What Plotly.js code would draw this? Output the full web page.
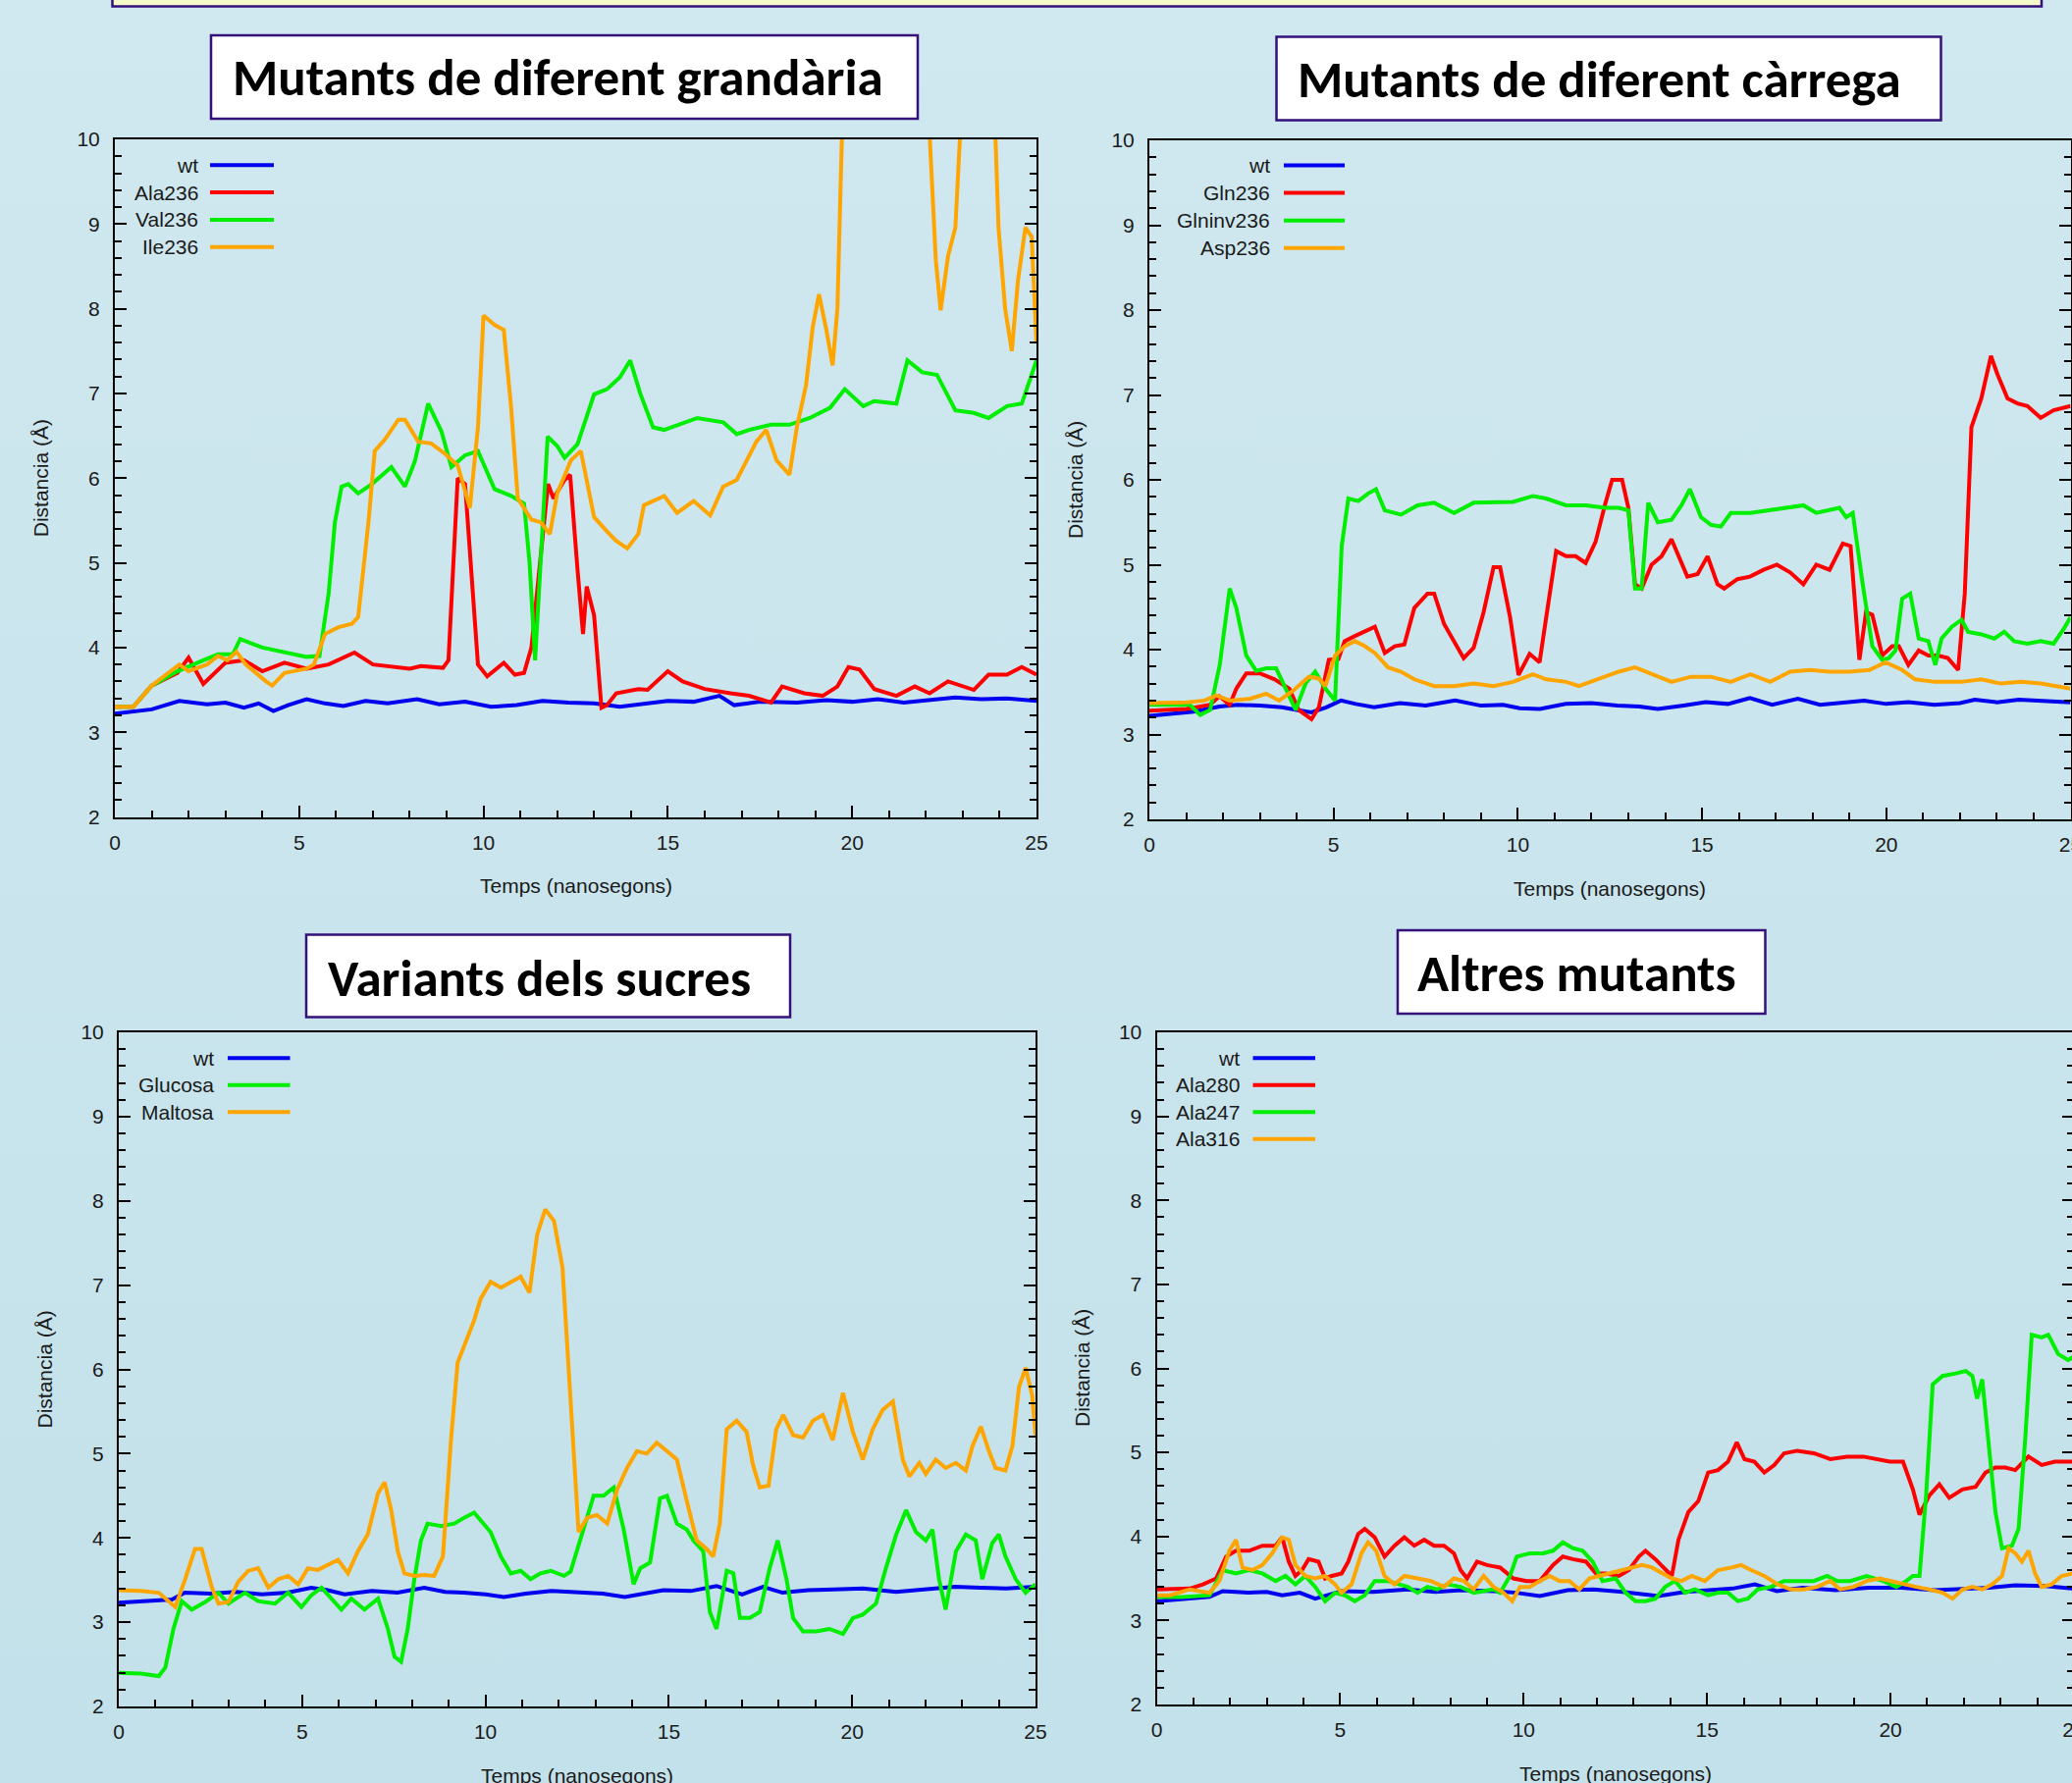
<!DOCTYPE html>
<html><head><meta charset="utf-8">
<script src="https://cdn.plot.ly/plotly-3.0.1.min.js"></script>
<style>html,body{margin:0;padding:0;overflow:hidden;background:#cae5ed}#chart{width:2130px;height:1817px}</style>
</head><body><div id="chart"></div>
<script>
// ---------------- DATA ----------------
const panelTitles = ["Mutants de diferent grandària", "Mutants de diferent càrrega", "Variants dels sucres", "Altres mutants"];
const xTitle = "Temps (nanosegons)";
const yTitle = "Distancia (Å)";

// Panel 1: Mutants de diferent grandària
const p1Names = ["wt", "Ala236", "Val236", "Ile236"];
const p1_wt_x = [0,0.5,1.0,1.75,2.5,3.0,3.5,3.9,4.3,4.7,5.2,5.7,6.2,6.8,7.4,8.2,8.8,9.5,10.2,10.9,11.6,12.3,13.0,13.7,14.4,15.0,15.7,16.4,16.8,17.5,18.5,19.3,20.0,20.7,21.4,22.1,22.8,23.5,24.2,25];
const p1_wt_y = [3.22,3.24,3.27,3.37,3.33,3.35,3.29,3.34,3.25,3.32,3.39,3.34,3.31,3.37,3.34,3.39,3.33,3.36,3.3,3.32,3.37,3.35,3.34,3.3,3.34,3.37,3.36,3.43,3.32,3.36,3.35,3.38,3.36,3.39,3.35,3.38,3.41,3.39,3.4,3.37];
const p1_ala_x = [0,0.5,1.0,1.7,2.0,2.4,3.0,3.5,4.0,4.6,5.2,5.8,6.5,7.0,8.0,8.3,8.9,9.05,9.3,9.5,9.85,10.1,10.55,10.85,11.1,11.3,11.75,11.9,12.2,12.35,12.55,12.7,12.8,13.0,13.2,13.35,13.6,14.2,14.45,15.0,15.4,16.0,16.7,17.2,17.8,18.1,18.7,19.2,19.6,19.9,20.2,20.6,21.2,21.7,22.1,22.6,23.3,23.7,24.2,24.6,25];
const p1_ala_y = [3.3,3.3,3.55,3.7,3.88,3.57,3.82,3.85,3.72,3.82,3.75,3.8,3.94,3.8,3.75,3.78,3.76,3.85,6.0,5.93,3.8,3.66,3.82,3.68,3.7,4.0,5.93,5.76,5.98,6.04,4.92,4.16,4.72,4.38,3.29,3.32,3.46,3.51,3.5,3.72,3.6,3.51,3.46,3.43,3.35,3.54,3.46,3.43,3.54,3.77,3.74,3.51,3.43,3.54,3.46,3.6,3.5,3.68,3.68,3.77,3.68];
const p1_val_x = [0,0.5,1.0,1.7,2.4,2.8,3.2,3.4,4.0,4.5,5.2,5.55,5.8,5.97,6.15,6.33,6.6,6.97,7.5,7.87,8.14,8.5,8.86,9.13,9.5,9.85,10.3,10.75,11.1,11.25,11.4,11.74,12.0,12.2,12.55,13.0,13.35,13.7,13.98,14.25,14.6,14.9,15.8,16.5,16.87,17.2,17.8,18.3,18.85,19.4,19.8,20.3,20.6,21.2,21.5,21.9,22.3,22.8,23.3,23.7,24.2,24.6,25];
const p1_val_y = [3.3,3.3,3.55,3.72,3.85,3.92,3.92,4.1,4.0,3.95,3.89,3.9,4.64,5.48,5.9,5.93,5.82,5.93,6.13,5.9,6.2,6.88,6.55,6.13,6.27,6.32,5.87,5.79,5.7,5.0,3.85,6.49,6.38,6.24,6.4,6.99,7.05,7.19,7.39,7.0,6.6,6.57,6.71,6.66,6.52,6.57,6.63,6.63,6.71,6.83,7.05,6.85,6.91,6.88,7.39,7.25,7.22,6.8,6.77,6.71,6.85,6.88,7.39];
const p1_ile_x = [0,0.5,1.0,1.75,2.0,2.5,2.8,3.05,3.3,3.55,4.1,4.27,4.6,5.2,5.4,5.7,6.07,6.43,6.6,6.88,7.05,7.33,7.69,7.87,8.23,8.58,8.95,9.3,9.63,9.85,10.0,10.3,10.55,10.75,10.93,11.3,11.55,11.8,12.0,12.37,12.64,13.0,13.35,13.6,13.9,14.2,14.35,14.9,15.25,15.7,16.15,16.5,16.87,17.4,17.67,17.95,18.3,18.5,18.75,18.93,19.1,19.3,19.47,19.6,19.75,20.5,21.5,22.05,22.27,22.4,22.6,22.8,22.98,23.4,23.85,23.97,24.15,24.33,24.5,24.7,24.87,25];
const p1_ile_y = [3.3,3.3,3.55,3.8,3.72,3.8,3.9,3.85,3.95,3.8,3.6,3.55,3.7,3.75,3.8,4.16,4.24,4.28,4.36,5.48,6.32,6.46,6.69,6.69,6.43,6.41,6.29,6.15,5.65,6.6,7.92,7.81,7.75,6.83,5.76,5.51,5.48,5.34,5.82,6.21,6.32,5.54,5.37,5.26,5.17,5.34,5.68,5.79,5.59,5.73,5.56,5.9,5.98,6.43,6.57,6.21,6.04,6.6,7.1,7.78,8.17,7.75,7.33,8.0,10.5,11,11,10.5,8.57,7.98,8.62,8.96,10.5,11,10.5,8.96,8.0,7.5,8.34,8.96,8.85,7.6];

// Panel 2: Mutants de diferent càrrega
const p2Names = ["wt", "Gln236", "Glninv236", "Asp236"];
const p2_wt_x = [0,0.5,1.2,1.9,2.4,3.0,3.6,4.0,4.4,4.8,5.2,5.6,6.1,6.8,7.5,8.3,9.0,9.6,10.05,10.6,11.3,12.0,12.7,13.3,13.8,14.5,15.1,15.7,16.3,16.9,17.6,18.2,18.8,19.4,20.0,20.6,21.3,22.0,22.4,23.0,23.6,24.3,25];
const p2_wt_y = [3.22,3.24,3.27,3.33,3.35,3.34,3.32,3.29,3.26,3.32,3.4,3.36,3.32,3.37,3.34,3.4,3.34,3.35,3.31,3.3,3.36,3.37,3.34,3.33,3.3,3.34,3.38,3.36,3.43,3.35,3.42,3.35,3.38,3.4,3.36,3.38,3.35,3.37,3.41,3.38,3.41,3.39,3.38];
const p2_gln_x = [0,1.0,1.65,1.9,2.18,2.36,2.63,3.0,3.4,3.8,4.05,4.4,4.6,4.87,5.13,5.3,5.58,5.85,6.12,6.39,6.66,6.92,7.19,7.55,7.73,8.0,8.27,8.53,8.8,9.07,9.34,9.52,9.79,10.02,10.32,10.59,10.77,11.04,11.31,11.57,11.84,12.11,12.38,12.56,12.83,13.0,13.18,13.36,13.63,13.9,14.17,14.44,14.6,14.88,15.15,15.42,15.6,15.96,16.3,16.67,17.03,17.39,17.75,18.1,18.46,18.82,19.03,19.27,19.45,19.62,19.89,20.16,20.34,20.6,20.88,21.14,21.4,21.67,21.95,22.13,22.31,22.58,22.84,23.02,23.29,23.56,23.83,24.19,24.54,25];
const p2_gln_y = [3.28,3.3,3.35,3.45,3.35,3.54,3.72,3.72,3.65,3.54,3.29,3.18,3.32,3.88,3.89,4.1,4.16,4.21,4.27,3.96,4.04,4.06,4.49,4.66,4.66,4.3,4.1,3.9,4.02,4.44,4.97,4.97,4.38,3.7,3.95,3.85,4.38,5.16,5.1,5.1,5.02,5.27,5.73,6.0,6.0,5.67,4.77,4.72,5.0,5.1,5.3,5.02,4.86,4.89,5.1,4.77,4.72,4.83,4.86,4.94,5.0,4.91,4.77,5.0,4.94,5.25,5.22,3.88,4.44,4.41,3.93,4.04,4.04,3.82,3.99,3.93,3.93,3.9,3.76,4.66,6.62,6.96,7.46,7.24,6.96,6.9,6.87,6.73,6.82,6.87];
const p2_glninv_x = [0,1.1,1.38,1.65,1.91,2.18,2.36,2.63,2.9,3.17,3.44,3.7,3.97,4.24,4.5,4.78,5.04,5.22,5.4,5.67,5.94,6.15,6.39,6.83,7.28,7.73,8.27,8.8,9.34,9.87,10.41,10.77,11.31,11.84,12.38,12.74,13.0,13.18,13.36,13.54,13.8,14.17,14.44,14.67,14.97,15.24,15.51,15.78,16.31,16.85,17.39,17.75,18.1,18.46,18.73,18.91,19.09,19.36,19.62,19.89,20.07,20.25,20.43,20.65,20.88,21.14,21.33,21.5,21.78,22.04,22.22,22.58,22.93,23.2,23.47,23.83,24.19,24.54,24.81,25];
const p2_glninv_y = [3.35,3.35,3.23,3.29,3.82,4.72,4.49,3.93,3.75,3.78,3.78,3.54,3.29,3.6,3.74,3.54,3.4,5.22,5.78,5.75,5.84,5.89,5.64,5.59,5.7,5.73,5.61,5.73,5.73,5.74,5.81,5.78,5.7,5.7,5.67,5.67,5.64,4.72,4.72,5.73,5.5,5.53,5.7,5.89,5.56,5.47,5.45,5.61,5.61,5.64,5.67,5.7,5.61,5.64,5.67,5.56,5.61,4.77,4.04,3.88,3.9,3.99,4.6,4.66,4.13,4.1,3.82,4.13,4.27,4.35,4.21,4.18,4.13,4.21,4.1,4.07,4.1,4.07,4.24,4.38];
const p2_asp_x = [0,0.5,1.0,1.5,1.82,2.18,2.72,3.17,3.52,3.88,4.33,4.6,4.78,5.04,5.3,5.58,5.85,6.12,6.48,6.83,7.19,7.73,8.27,8.8,9.34,9.87,10.41,10.77,11.31,11.66,12.2,12.74,13.18,13.63,14.17,14.7,15.24,15.78,16.31,16.85,17.39,17.93,18.46,19.0,19.54,19.98,20.43,20.78,21.32,22.04,22.58,23.11,23.65,24.19,25];
const p2_asp_y = [3.37,3.37,3.38,3.4,3.46,3.4,3.42,3.48,3.4,3.51,3.68,3.66,3.57,3.93,4.04,4.1,4.04,3.96,3.79,3.74,3.65,3.57,3.57,3.6,3.57,3.62,3.71,3.65,3.62,3.57,3.65,3.74,3.79,3.71,3.62,3.68,3.68,3.62,3.71,3.62,3.74,3.76,3.74,3.74,3.76,3.85,3.76,3.65,3.62,3.62,3.65,3.6,3.62,3.6,3.54];

// Panel 3: Variants dels sucres
const p3Names = ["wt", "Glucosa", "Maltosa"];
const p3_wt_x = [0,0.7,1.45,1.8,2.5,3.2,3.9,4.6,5.25,5.7,6.16,6.9,7.6,8.33,8.9,9.4,10.0,10.5,11.1,11.8,12.5,13.2,13.8,14.4,14.85,15.6,16.3,17.0,17.57,18.1,18.8,19.5,20.3,21.2,22.1,22.8,23.5,24.2,25];
const p3_wt_y = [3.23,3.25,3.27,3.35,3.34,3.36,3.33,3.35,3.41,3.38,3.33,3.37,3.35,3.41,3.36,3.35,3.33,3.3,3.34,3.37,3.35,3.34,3.3,3.34,3.38,3.37,3.43,3.33,3.42,3.35,3.38,3.39,3.4,3.36,3.4,3.42,3.41,3.4,3.42];
const p3_glu_x = [0,0.6,1.09,1.27,1.49,1.72,1.99,2.36,2.72,2.99,3.44,3.8,4.26,4.62,4.98,5.25,5.53,5.8,6.07,6.34,6.7,7.07,7.34,7.52,7.7,7.88,8.06,8.24,8.42,8.79,9.15,9.42,9.69,10.14,10.42,10.69,10.96,11.23,11.5,11.78,12.14,12.32,12.68,12.95,13.22,13.5,13.77,14.04,14.22,14.49,14.76,14.95,15.22,15.49,15.67,15.94,16.12,16.3,16.58,16.76,16.94,17.21,17.48,17.75,17.97,18.21,18.39,18.66,19.02,19.38,19.75,20.02,20.29,20.65,20.92,21.2,21.47,21.74,22.01,22.19,22.37,22.55,22.83,23.1,23.37,23.55,23.82,24.0,24.18,24.46,24.73,25];
const p3_glu_y = [2.4,2.39,2.36,2.46,2.92,3.25,3.15,3.24,3.35,3.22,3.35,3.25,3.22,3.35,3.18,3.32,3.41,3.28,3.15,3.28,3.15,3.28,2.92,2.59,2.53,2.92,3.51,3.97,4.17,4.14,4.17,4.24,4.3,4.07,3.78,3.58,3.61,3.51,3.58,3.61,3.55,3.6,4.1,4.5,4.5,4.6,4.1,3.45,3.64,3.71,4.47,4.5,4.17,4.1,3.97,3.84,3.12,2.92,3.61,3.58,3.05,3.05,3.12,3.64,3.97,3.51,3.05,2.89,2.89,2.92,2.86,3.05,3.09,3.22,3.64,4.04,4.33,4.07,3.97,4.1,3.51,3.15,3.84,4.04,3.97,3.51,3.94,4.04,3.78,3.51,3.35,3.45];
const p3_mal_x = [0,0.6,1.09,1.36,1.54,1.81,2.08,2.26,2.54,2.72,2.99,3.26,3.53,3.8,4.08,4.35,4.62,4.89,5.16,5.43,5.71,5.98,6.25,6.52,6.79,7.07,7.25,7.43,7.61,7.79,8.06,8.33,8.6,8.84,9.06,9.24,9.42,9.69,9.87,10.14,10.42,10.69,10.96,11.2,11.41,11.63,11.87,12.1,12.32,12.54,12.77,13.04,13.32,13.59,13.86,14.13,14.4,14.67,14.95,15.22,15.49,15.76,16.03,16.21,16.39,16.58,16.85,17.12,17.3,17.48,17.72,17.93,18.12,18.39,18.66,18.93,19.2,19.47,19.75,20.02,20.29,20.56,20.83,21.11,21.38,21.56,21.83,22.01,22.28,22.55,22.83,23.1,23.28,23.51,23.73,23.91,24.18,24.37,24.55,24.73,24.91,25];
const p3_mal_y = [3.38,3.37,3.35,3.25,3.18,3.51,3.87,3.87,3.41,3.22,3.24,3.48,3.61,3.64,3.41,3.51,3.55,3.45,3.64,3.62,3.68,3.74,3.58,3.84,4.04,4.53,4.66,4.33,3.84,3.58,3.55,3.56,3.55,3.78,5.16,6.08,6.28,6.58,6.84,7.04,6.97,7.04,7.1,6.91,7.6,7.9,7.76,7.21,5.62,4.07,4.24,4.27,4.17,4.57,4.83,5.03,5.0,5.13,5.03,4.93,4.44,3.97,3.87,3.78,4.17,5.29,5.39,5.26,4.86,4.6,4.62,5.29,5.46,5.22,5.19,5.39,5.46,5.16,5.72,5.26,4.93,5.29,5.52,5.62,4.93,4.73,4.89,4.76,4.93,4.83,4.89,4.8,5.09,5.32,5.03,4.83,4.8,5.09,5.79,6.02,5.69,5.22];

// Panel 4: Altres mutants
const p4Names = ["wt", "Ala280", "Ala247", "Ala316"];
const p4_wt_x = [0,0.7,1.44,1.8,2.5,3.0,3.42,3.9,4.32,5.04,5.9,6.84,7.6,8.3,9.2,9.8,10.44,11.2,11.9,12.7,13.68,14.4,15.0,15.7,16.3,16.9,17.6,18.5,19.4,20.3,21.2,22.0,22.7,23.4,24.2,25];
const p4_wt_y = [3.23,3.25,3.28,3.35,3.33,3.34,3.3,3.33,3.26,3.35,3.34,3.37,3.34,3.36,3.35,3.33,3.29,3.36,3.37,3.34,3.29,3.34,3.36,3.38,3.43,3.35,3.39,3.36,3.39,3.39,3.36,3.38,3.39,3.42,3.41,3.38];
const p4_a280_x = [0,0.9,1.26,1.62,1.89,2.16,2.52,2.88,3.24,3.42,3.6,3.78,3.96,4.14,4.41,4.59,4.77,5.04,5.22,5.49,5.67,5.94,6.21,6.48,6.75,7.02,7.29,7.56,7.83,8.1,8.28,8.46,8.73,9.0,9.36,9.72,10.08,10.44,10.8,11.07,11.34,11.7,11.97,12.24,12.6,12.87,13.14,13.32,13.59,13.86,14.04,14.22,14.49,14.76,15.03,15.3,15.57,15.81,16.02,16.29,16.56,16.83,17.1,17.46,17.91,18.36,18.81,19.26,19.62,19.98,20.34,20.61,20.79,21.06,21.33,21.6,21.96,22.32,22.59,22.86,23.13,23.4,23.76,24.12,24.48,25];
const p4_a280_y = [3.37,3.38,3.43,3.5,3.76,3.83,3.83,3.89,3.89,3.99,3.7,3.53,3.6,3.73,3.7,3.5,3.53,3.56,3.7,4.03,4.09,3.99,3.76,3.89,3.99,3.89,3.96,3.89,3.89,3.8,3.6,3.5,3.7,3.66,3.63,3.5,3.47,3.47,3.66,3.76,3.73,3.7,3.56,3.56,3.53,3.6,3.76,3.83,3.73,3.6,3.53,3.96,4.29,4.42,4.76,4.79,4.89,5.12,4.92,4.89,4.76,4.85,4.99,5.02,4.99,4.92,4.95,4.95,4.92,4.89,4.89,4.56,4.26,4.49,4.62,4.46,4.56,4.59,4.76,4.82,4.82,4.79,4.95,4.85,4.89,4.89];
const p4_a247_x = [0,0.7,1.44,1.8,2.16,2.52,2.88,3.24,3.51,3.78,4.05,4.32,4.59,4.86,5.13,5.4,5.67,5.94,6.3,6.57,6.84,7.11,7.38,7.65,7.92,8.28,8.64,9.18,9.36,9.63,9.81,10.17,10.53,10.8,11.07,11.34,11.61,11.88,12.15,12.51,12.78,13.05,13.32,13.59,13.86,14.13,14.4,14.67,15.03,15.3,15.57,15.84,16.11,16.38,16.74,17.1,17.46,17.91,18.27,18.54,18.9,19.35,19.8,20.16,20.43,20.61,20.79,20.97,21.15,21.42,21.78,22.05,22.23,22.36,22.5,22.68,22.86,23.04,23.31,23.49,23.67,23.85,24.12,24.3,24.57,24.84,25];
const p4_a247_y = [3.28,3.28,3.3,3.6,3.56,3.6,3.56,3.47,3.53,3.43,3.53,3.4,3.23,3.33,3.3,3.23,3.3,3.47,3.47,3.43,3.4,3.33,3.4,3.37,3.43,3.4,3.33,3.37,3.33,3.53,3.76,3.8,3.8,3.83,3.93,3.86,3.83,3.7,3.47,3.5,3.33,3.23,3.23,3.26,3.4,3.47,3.33,3.37,3.3,3.33,3.33,3.23,3.26,3.37,3.4,3.47,3.47,3.47,3.53,3.47,3.47,3.53,3.47,3.4,3.47,3.53,3.53,4.49,5.81,5.91,5.94,5.97,5.91,5.64,5.87,5.09,4.29,3.86,3.89,4.09,5.15,6.4,6.37,6.4,6.17,6.1,6.14];
const p4_a316_x = [0,0.36,0.9,1.44,1.71,1.98,2.16,2.34,2.61,2.88,3.15,3.42,3.6,3.78,4.05,4.32,4.59,4.86,5.04,5.31,5.58,5.76,5.98,6.21,6.48,6.75,7.11,7.47,7.83,8.1,8.37,8.64,8.91,9.18,9.45,9.69,9.9,10.17,10.44,10.71,10.98,11.25,11.52,11.79,12.06,12.33,12.6,12.96,13.23,13.5,13.77,14.04,14.31,14.58,14.94,15.3,15.66,15.93,16.2,16.56,16.92,17.28,17.64,18.0,18.36,18.63,18.99,19.35,19.71,19.98,20.34,20.7,21.06,21.42,21.69,21.96,22.23,22.5,22.77,23.04,23.22,23.4,23.58,23.76,23.94,24.12,24.39,24.66,25];
const p4_a316_y = [3.3,3.3,3.37,3.33,3.47,3.83,3.96,3.63,3.6,3.66,3.8,3.99,3.96,3.66,3.53,3.5,3.53,3.43,3.33,3.43,3.8,3.93,3.83,3.53,3.43,3.53,3.5,3.47,3.4,3.5,3.47,3.37,3.53,3.4,3.33,3.23,3.4,3.4,3.47,3.53,3.47,3.47,3.37,3.5,3.53,3.56,3.6,3.63,3.66,3.63,3.56,3.5,3.47,3.53,3.47,3.6,3.63,3.66,3.6,3.53,3.43,3.37,3.37,3.4,3.47,3.37,3.4,3.47,3.5,3.47,3.43,3.4,3.37,3.33,3.26,3.37,3.4,3.37,3.43,3.53,3.86,3.8,3.7,3.83,3.56,3.4,3.43,3.53,3.56];

const xTickVals = [0, 5, 10, 15, 20, 25];
const yTickVals = [2, 3, 4, 5, 6, 7, 8, 9, 10];

// ---------------- LAYOUT / STYLE ----------------
const W = 2130, H = 1817;
const fx = px => px / W;
const fy = py => 1 - py / H;
const colors = ["#0000f0", "#ff0000", "#00ee00", "#ffa500"];
const TXT = "#1a1a1a";
const FONT = "Liberation Sans, Arial, sans-serif";

const panels = [
  { box: [117, 142, 1056, 832.5], series: [[p1_wt_x,p1_wt_y],[p1_ala_x,p1_ala_y],[p1_val_x,p1_val_y],[p1_ile_x,p1_ile_y]], names: p1Names, cols: [0,1,2,3],
    tbox: [215, 36, 935, 121], ttext: [235, 79], leg: {tx: 204, l0: 214, l1: 279, y0: 168.3, dy: 27.8} },
  { box: [1171, 143, 2109.5, 835], series: [[p2_wt_x,p2_wt_y],[p2_gln_x,p2_gln_y],[p2_glninv_x,p2_glninv_y],[p2_asp_x,p2_asp_y]], names: p2Names, cols: [0,1,2,3],
    tbox: [1300.5, 37.5, 1977.5, 122.5], ttext: [1320, 81], leg: {tx: 1296, l0: 1308, l1: 1370, y0: 168.5, dy: 28.1} },
  { box: [121, 1052, 1055, 1739], series: [[p3_wt_x,p3_wt_y],[p3_glu_x,p3_glu_y],[p3_mal_x,p3_mal_y]], names: p3Names, cols: [0,2,3],
    tbox: [312, 952.5, 805, 1036.5], ttext: [332, 997], leg: {tx: 219.7, l0: 232, l1: 295.5, y0: 1078.2, dy: 27.5} },
  { box: [1178.5, 1052, 2113, 1737], series: [[p4_wt_x,p4_wt_y],[p4_a280_x,p4_a280_y],[p4_a247_x,p4_a247_y],[p4_a316_x,p4_a316_y]], names: p4Names, cols: [0,1,2,3],
    tbox: [1424, 948, 1798.5, 1033], ttext: [1442, 992.5], leg: {tx: 1265, l0: 1276.5, l1: 1340, y0: 1078.2, dy: 27.5} }
];

const data = [];
const layout = {
  width: W, height: H,
  margin: {l: 0, r: 0, t: 0, b: 0},
  paper_bgcolor: "#cae5ed",
  plot_bgcolor: "rgba(0,0,0,0)",
  showlegend: false,
  shapes: [], annotations: [], images: []
};

// background gradient
const grad = '<svg xmlns="http://www.w3.org/2000/svg" width="100" height="100" preserveAspectRatio="none"><defs><linearGradient id="g" x1="0" y1="0" x2="0" y2="1"><stop offset="0" stop-color="#d0e8f0"/><stop offset="1" stop-color="#c3e1ea"/></linearGradient></defs><rect width="100" height="100" fill="url(#g)"/></svg>';
layout.images.push({source: "data:image/svg+xml;base64," + btoa(grad), xref: "paper", yref: "paper", x: 0, y: 1, sizex: 1, sizey: 1, sizing: "stretch", xanchor: "left", yanchor: "top", layer: "below"});

// top banner box
layout.shapes.push({type: "rect", xref: "paper", yref: "paper", x0: fx(114.5), x1: fx(2080), y0: fy(6.5), y1: fy(-20), fillcolor: "#f6f9c8", line: {color: "#35107a", width: 2.5}});

panels.forEach((p, i) => {
  const n = i === 0 ? "" : String(i + 1);
  const [L, T, R, B] = p.box;
  const common = {
    showgrid: false, zeroline: false, showline: true, linecolor: "#000", linewidth: 2,
    ticks: "inside", tickcolor: "#000", tickwidth: 2, ticklen: 12,
    tickfont: {family: FONT, size: 21, color: TXT}
  };
  layout["xaxis" + n] = Object.assign({}, common, {
    domain: [fx(L), fx(R)], anchor: "y" + n, range: [0, 25], tickvals: xTickVals, mirror: true,
    ticklabelstandoff: 6,
    minor: {dtick: 1, tick0: 0, ticks: "inside", ticklen: 7, tickwidth: 2, tickcolor: "#000"}
  });
  layout["yaxis" + n] = Object.assign({}, common, {
    domain: [fy(B), fy(T)], anchor: "x" + n, range: [2, 10], tickvals: yTickVals, mirror: "ticks",
    ticklabelstandoff: 9,
    minor: {dtick: 0.2, tick0: 2, ticks: "inside", ticklen: 7, tickwidth: 2, tickcolor: "#000"}
  });
  p.series.forEach((s, k) => {
    data.push({type: "scatter", mode: "lines", x: s[0], y: s[1], name: p.names[k], xaxis: "x" + n, yaxis: "y" + n,
      line: {color: colors[p.cols[k]], width: 4}, hoverinfo: "skip"});
    // gnuplot-style key: right aligned label + sample line
    const yy = p.leg.y0 + k * p.leg.dy;
    layout.annotations.push({xref: "paper", yref: "paper", x: fx(p.leg.tx), y: fy(yy), xanchor: "right", yanchor: "middle",
      text: p.names[k], showarrow: false, font: {family: FONT, size: 21, color: TXT}});
    layout.shapes.push({type: "line", xref: "paper", yref: "paper", x0: fx(p.leg.l0), x1: fx(p.leg.l1), y0: fy(yy), y1: fy(yy),
      line: {color: colors[p.cols[k]], width: 4}});
  });
  // axis titles
  layout.annotations.push({xref: "paper", yref: "paper", x: fx((L + R) / 2), y: fy(B + 70), xanchor: "center", yanchor: "middle",
    text: xTitle, showarrow: false, font: {family: FONT, size: 21, color: TXT}});
  layout.annotations.push({xref: "paper", yref: "paper", x: fx(L - 76), y: fy((T + B) / 2), xanchor: "center", yanchor: "middle",
    text: yTitle, textangle: -90, showarrow: false, font: {family: FONT, size: 21, color: TXT}});
  // title box
  const [bx0, by0, bx1, by1] = p.tbox;
  layout.shapes.push({type: "rect", xref: "paper", yref: "paper", x0: fx(bx0), x1: fx(bx1), y0: fy(by1), y1: fy(by0),
    fillcolor: "#ffffff", line: {color: "#35107a", width: 2.5}});
  layout.annotations.push({xref: "paper", yref: "paper", x: fx(p.ttext[0]), y: fy(p.ttext[1]), xanchor: "left", yanchor: "middle",
    text: panelTitles[i], showarrow: false, font: {family: "Carlito, Lato, sans-serif", size: 53, weight: 700, color: "#000"}});
});

Plotly.newPlot("chart", data, layout, {staticPlot: true, displayModeBar: false});
</script></body></html>
